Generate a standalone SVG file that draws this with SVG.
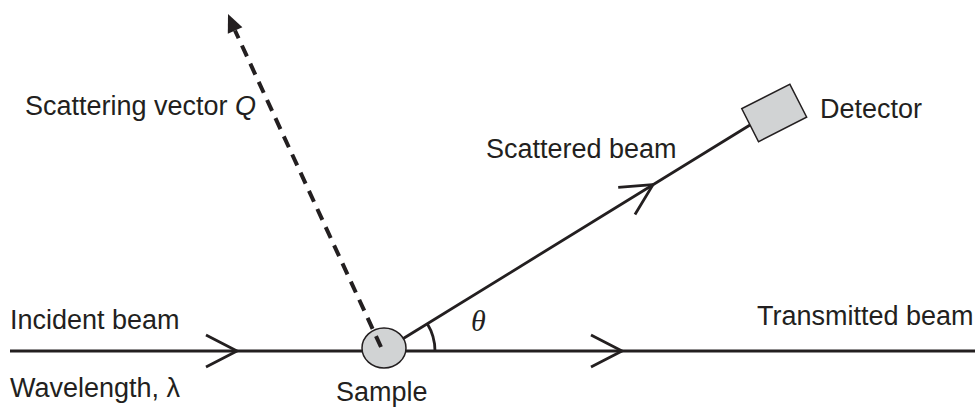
<svg xmlns="http://www.w3.org/2000/svg" width="975" height="407" viewBox="0 0 975 407">
<style>
.lbl{font-family:"Liberation Sans",Arial,sans-serif;font-size:27px;fill:#231f20}
.sym{font-family:"Liberation Serif","Times New Roman",serif;font-style:italic;font-size:30px;fill:#231f20}
.beam{stroke:#231f20;stroke-width:2.8;fill:none}
.chev{stroke:#231f20;stroke-width:2.8;fill:none;stroke-linejoin:miter}
.body{fill:#d1d3d4;stroke:#231f20;stroke-width:1.5}
</style>
<defs>
<path id="chevron" class="chev" d="M-31,-16 L0,0 L-31,16"/>
</defs>
<rect width="975" height="407" fill="#ffffff"/>
<g id="connectors">
<line class="beam" x1="10" y1="351" x2="975" y2="351"/>
<use href="#chevron" transform="translate(237,351)"/>
<use href="#chevron" transform="translate(622,351)"/>
<line class="beam" x1="383" y1="351" x2="750" y2="125"/>
<use href="#chevron" transform="translate(653,184.7) rotate(-31.6)"/>
<path class="beam" d="M435,351 A52,52 0 0 0 427.3,323.8" stroke-width="2"/>
</g>
<g id="sample">
<ellipse class="body" cx="384" cy="348" rx="22" ry="20"/>
<text class="lbl" x="336" y="401">Sample</text>
</g>
<g id="scattering-vector">
<line x1="381" y1="347" x2="235" y2="30.5" stroke="#231f20" stroke-width="4" stroke-dasharray="12 8"/>
<polygon points="228,14 242.4,27.2 227.8,33.8" fill="#231f20"/>
<text class="lbl" x="25" y="115">Scattering vector <tspan font-style="italic">Q</tspan></text>
</g>
<g id="detector">
<rect class="body" x="-27" y="-18.5" width="54" height="37" transform="translate(774.2,112.9) rotate(-27)"/>
<text class="lbl" x="820" y="118">Detector</text>
</g>
<g id="labels">
<text class="lbl" x="10" y="329">Incident beam</text>
<text class="lbl" x="10" y="397">Wavelength, λ</text>
<text class="lbl" x="486" y="158">Scattered beam</text>
<text class="lbl" x="757" y="325">Transmitted beam</text>
<text class="sym" x="471" y="331">θ</text>
</g>
</svg>
